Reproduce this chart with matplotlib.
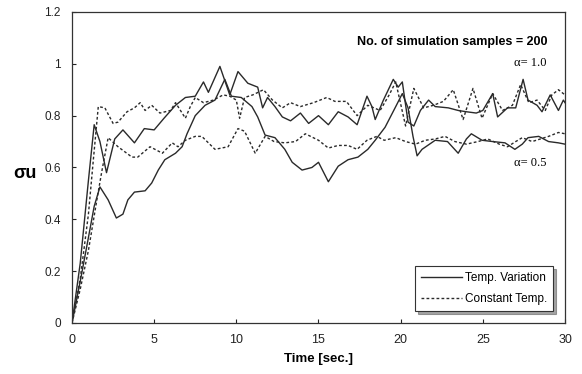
import matplotlib
matplotlib.use("Agg")
import matplotlib.pyplot as plt
from matplotlib.ticker import FuncFormatter

plt.rcParams['font.family'] = ['Liberation Sans', 'DejaVu Sans']

# alpha = 1.0, temperature variation (solid)
t_tv10 = [0, 0.5, 1.0, 1.35, 1.7, 2.1, 2.6, 3.1, 3.8, 4.4, 5.0, 5.6, 6.3, 6.9, 7.5, 8.0, 8.3, 9.0, 9.6, 10.1,
          10.7, 11.3, 11.6, 11.9, 12.35, 12.8, 13.3, 13.9, 14.4, 15.0, 15.6, 16.2, 16.8, 17.35, 17.95, 18.25,
          18.45, 18.95, 19.55, 19.85, 20.1, 20.45, 20.8, 21.2, 21.7, 22.1, 22.9, 23.5, 24.0, 24.6, 25.0, 25.6,
          25.9, 26.5, 27.0, 27.45, 27.75, 28.3, 28.6, 29.1, 29.6, 29.9, 30]
y_tv10 = [0, 0.23, 0.55, 0.765, 0.7, 0.58, 0.71, 0.745, 0.695, 0.75, 0.745, 0.79, 0.84, 0.87, 0.875, 0.93, 0.89,
          0.99, 0.88, 0.97, 0.925, 0.91, 0.83, 0.87, 0.835, 0.795, 0.78, 0.81, 0.77, 0.8, 0.765, 0.815, 0.795,
          0.765, 0.875, 0.835, 0.785, 0.86, 0.94, 0.91, 0.93, 0.775, 0.76, 0.82, 0.86, 0.835, 0.83, 0.82, 0.815,
          0.81, 0.82, 0.885, 0.795, 0.83, 0.83, 0.94, 0.86, 0.84, 0.815, 0.88, 0.82, 0.86, 0.85]

# alpha = 1.0, constant temperature (dashed)
t_ct10 = [0, 0.5, 1.0, 1.3, 1.6, 2.0, 2.5, 2.8, 3.35, 3.8, 4.15, 4.45, 4.85, 5.35, 6.0, 6.3, 6.9, 7.2, 7.5, 8.0,
          8.6, 9.2, 9.6, 10.0, 10.2, 10.5, 11.0, 11.65, 12.2, 12.8, 13.3, 13.9, 14.7, 15.5, 16.0, 16.7, 17.35,
          18.0, 18.75, 19.3, 19.7, 20.3, 20.8, 21.4, 22.0, 22.6, 23.2, 23.8, 24.4, 24.95, 25.6, 26.2, 26.8, 27.3,
          27.8, 28.3, 28.8, 29.2, 29.6, 30]
y_ct10 = [0, 0.17, 0.42, 0.63, 0.835, 0.83, 0.77, 0.775, 0.815, 0.83, 0.85, 0.82, 0.84, 0.81, 0.82, 0.85, 0.79,
          0.835, 0.87, 0.85, 0.86, 0.88, 0.875, 0.86, 0.79, 0.87, 0.88, 0.9, 0.86, 0.83, 0.85, 0.835, 0.85, 0.87,
          0.855, 0.855, 0.8, 0.84, 0.82, 0.88, 0.93, 0.76, 0.905, 0.83, 0.84, 0.855, 0.9, 0.785, 0.905, 0.79,
          0.885, 0.82, 0.84, 0.92, 0.85, 0.86, 0.82, 0.88, 0.9, 0.88]

# alpha = 0.5, temperature variation (solid)
t_tv05 = [0, 0.5, 1.0, 1.35, 1.7, 2.2, 2.7, 3.1, 3.4, 3.8, 4.45, 4.85, 5.25, 5.65, 6.3, 6.7, 7.0, 7.5, 8.1, 8.7,
          9.3, 9.7, 10.3, 10.95, 11.3, 11.75, 12.35, 12.95, 13.4, 14.0, 14.6, 15.0, 15.6, 16.2, 16.8, 17.4, 18.0,
          18.45, 19.05, 19.7, 20.1, 20.45, 20.75, 21.0, 21.3, 22.1, 22.85, 23.5, 24.0, 24.3, 24.95, 25.6, 26.35,
          26.95, 27.4, 27.75, 28.4, 29.0, 29.6, 30]
y_tv05 = [0, 0.16, 0.33, 0.45, 0.525, 0.475, 0.405, 0.42, 0.475, 0.505, 0.51, 0.54, 0.59, 0.63, 0.655, 0.68, 0.73,
          0.8, 0.84, 0.86, 0.94, 0.875, 0.87, 0.835, 0.795, 0.725, 0.715, 0.67, 0.62, 0.59, 0.6, 0.62, 0.545,
          0.605, 0.63, 0.64, 0.67, 0.705, 0.755, 0.835, 0.885, 0.83, 0.72, 0.645, 0.67, 0.705, 0.7, 0.655, 0.71,
          0.73, 0.705, 0.70, 0.695, 0.67, 0.69, 0.715, 0.72, 0.70, 0.695, 0.69]

# alpha = 0.5, constant temperature (dashed)
t_ct05 = [0, 0.5, 1.0, 1.5, 1.8, 2.2, 2.8, 3.65, 4.0, 4.75, 5.5, 6.1, 6.45, 6.9, 7.5, 7.9, 8.7, 9.5, 10.1, 10.5,
          11.15, 11.75, 12.3, 12.95, 13.6, 14.2, 15.0, 15.6, 16.2, 16.8, 17.35, 17.95, 18.55, 19.0, 19.7, 20.3,
          20.9, 21.5, 22.1, 22.7, 23.3, 24.0, 24.7, 25.3, 26.0, 26.5, 27.0, 27.4, 28.0, 28.5, 29.0, 29.6, 30]
y_ct05 = [0, 0.13, 0.28, 0.47, 0.58, 0.715, 0.68, 0.64, 0.64, 0.68, 0.655, 0.695, 0.68, 0.705, 0.72, 0.72, 0.67,
          0.68, 0.75, 0.74, 0.655, 0.72, 0.70, 0.695, 0.70, 0.73, 0.705, 0.675, 0.685, 0.685, 0.67, 0.705, 0.72,
          0.705, 0.715, 0.70, 0.69, 0.705, 0.71, 0.72, 0.70, 0.69, 0.70, 0.71, 0.69, 0.68, 0.70, 0.715, 0.70,
          0.71, 0.72, 0.735, 0.73]

x_ticks = [0, 5, 10, 15, 20, 25, 30]
y_ticks = [0, 0.2, 0.4, 0.6, 0.8, 1.0, 1.2]

fig = plt.figure(figsize=(5.82, 3.74), dpi=100)
ax = fig.add_axes([0.1237, 0.1364, 0.8471, 0.8316])

lc = '#2a2a2a'
dash = (0, (2.0, 1.6))
ax.plot(t_tv10, y_tv10, color=lc, lw=1.0, label='Temp. Variation')
ax.plot(t_ct10, y_ct10, color=lc, lw=1.0, linestyle=dash, label='Constant Temp.')
ax.plot(t_tv05, y_tv05, color=lc, lw=1.0)
ax.plot(t_ct05, y_ct05, color=lc, lw=1.0, linestyle=dash)

ax.set_xlim(0, 30)
ax.set_ylim(0, 1.2)
ax.set_xticks(x_ticks)
ax.set_yticks(y_ticks)
ax.yaxis.set_major_formatter(FuncFormatter(lambda v, p: '%g' % v))
ax.tick_params(axis='x', direction='in', length=3, labelsize=9, pad=8, colors='#222')
ax.tick_params(axis='y', direction='in', length=3, labelsize=8.5, pad=8, colors='#222')
for s in ax.spines.values():
    s.set_color('#333')
    s.set_linewidth(0.9)

ax.set_xlabel('Time [sec.]', fontsize=9.5, fontweight='bold', labelpad=5)
ax.set_ylabel('σu', fontsize=13, fontweight='bold', rotation=0, ha='center', va='center')
ax.yaxis.set_label_coords(-0.095, 0.482)

ax.text(0.965, 0.905, 'No. of simulation samples = 200', transform=ax.transAxes,
        ha='right', va='center', fontsize=9, fontweight='bold')
ax.text(27.9, 1.005, 'α= 1.0', family='Liberation Serif', fontsize=9, ha='center', va='center')
ax.text(27.9, 0.617, 'α= 0.5', family='Liberation Serif', fontsize=9, ha='center', va='center')

leg = ax.legend(loc='lower right', bbox_to_anchor=(0.98, 0.03), fontsize=8.5, frameon=True,
                fancybox=False, shadow=True, edgecolor='#333', handlelength=3.5,
                borderaxespad=0.2, borderpad=0.5, handletextpad=0.2, labelspacing=0.8)
leg.get_frame().set_linewidth(0.8)

plt.savefig('out.png', dpi=100)
